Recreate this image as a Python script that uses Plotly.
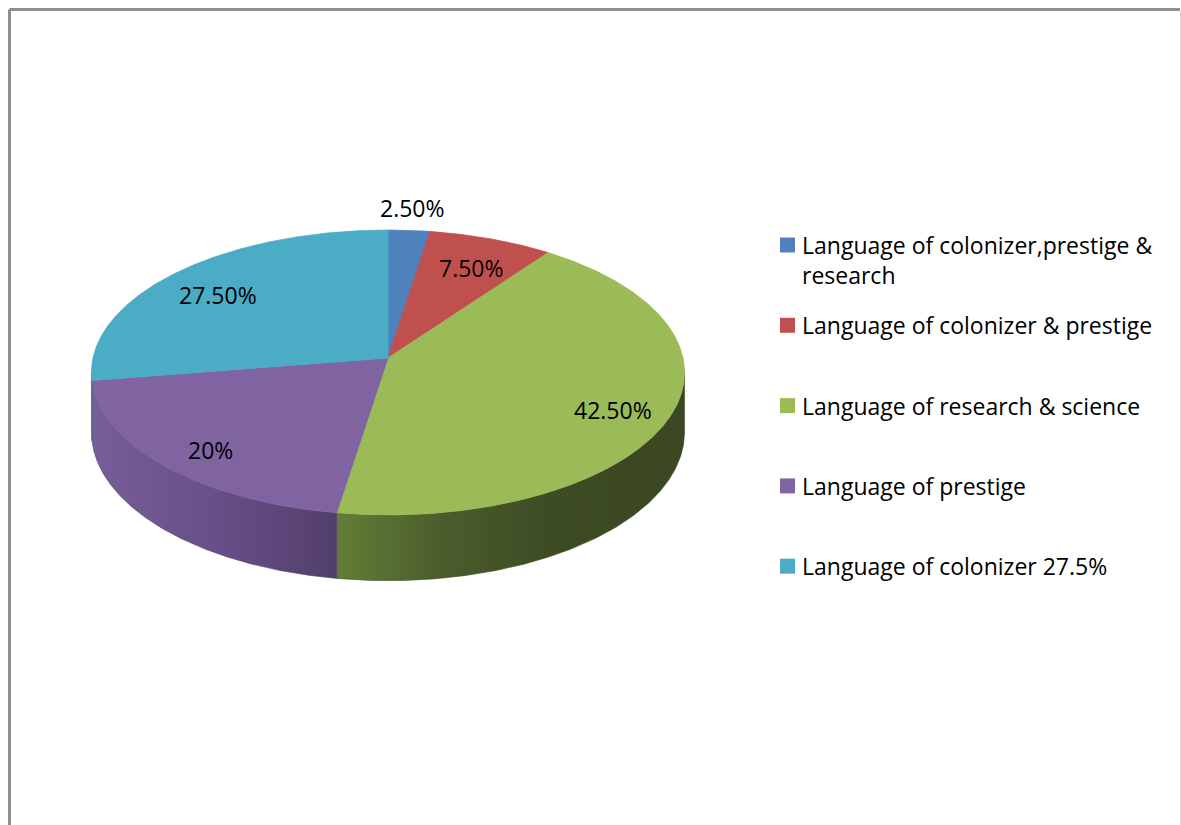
import numpy as np
import plotly.graph_objects as go

# ---- data -------------------------------------------------------------
categories = [
    "Language of colonizer,prestige & research",
    "Language of colonizer & prestige",
    "Language of research & science",
    "Language of prestige",
    "Language of colonizer 27.5%",
]
values = [2.5, 7.5, 42.5, 20, 27.5]
value_labels = ["2.50%", "7.50%", "42.50%", "20%", "27.50%"]

# ---- styling ----------------------------------------------------------
top_colors = ["#4f81bd", "#c0504d", "#9bbb59", "#8064a2", "#4bacc6"]
side_scales = [
    [[0, "#3c6391"], [1, "#2f4e73"]],
    [[0, "#943c3a"], [1, "#73302e"]],
    [[0, "#637e37"], [0.3, "#4b5d2c"], [0.6, "#3e4c24"], [1, "#3a4722"]],
    [[0, "#775e98"], [0.5, "#684f88"], [1, "#523f6c"]],
    [[0, "#3f8ea3"], [1, "#357a8c"]],
]
FONT = "Open Sans"
FSIZE = 23

# pixel-space canvas
W, H = 1181, 825
CX, CY = 388.0, 358.0       # projected pie centre
R, RV = 295.0, 141.0        # horizontal / vertical radius
K = 0.1018                  # perspective strength (front larger than back)
DEPTH = 59.0                # thickness of the disc


def proj(theta_deg, f=1.0, drop=0.0):
    t = np.radians(theta_deg)
    s = 1.0 / (1.0 + K * f * np.cos(t))
    x = CX + R * f * np.sin(t) * s
    y = CY - RV * f * np.cos(t) * s + drop * s
    return x, y


fig = go.Figure()

# angular extents of each slice (clockwise from 12 o'clock)
total = float(sum(values))
edges = np.concatenate([[0.0], np.cumsum(values) / total * 360.0])

# side wall is visible between the rightmost and leftmost silhouette points
vis_lo = np.degrees(np.arccos(-K))
vis_hi = 360.0 - vis_lo

for i in range(len(values)):
    a, b = max(edges[i], vis_lo), min(edges[i + 1], vis_hi)
    if b <= a:
        continue
    th = np.linspace(a, b, 200)
    xt, yt = proj(th)
    xb, yb = proj(th[::-1], drop=DEPTH)
    xs = np.concatenate([xt, xb, xt[:1]])
    ys = np.concatenate([yt, yb, yt[:1]])
    fig.add_trace(go.Scatter(
        x=xs, y=ys, mode="lines", fill="toself",
        line=dict(width=0.6, color=side_scales[i][-1][1]),
        fillgradient=dict(type="horizontal", colorscale=side_scales[i],
                          start=float(xs.min()), stop=float(xs.max())),
        hoverinfo="skip"))

for i in range(len(values)):
    th = np.linspace(edges[i], edges[i + 1], max(int((edges[i + 1] - edges[i]) * 3), 8))
    xa, ya = proj(th)
    xs = np.concatenate([[CX], xa, [CX]])
    ys = np.concatenate([[CY], ya, [CY]])
    fig.add_trace(go.Scatter(
        x=xs, y=ys, mode="lines", fill="toself", fillcolor=top_colors[i],
        line=dict(width=0.8, color=top_colors[i]), hoverinfo="skip"))

annotations = []
# data labels: small slices sit outside the disc, the rest inside
for i, lab in enumerate(value_labels):
    mid = (edges[i] + edges[i + 1]) / 2.0
    outside = values[i] < 5
    lx, ly = proj(mid, f=1.2 if outside else 0.8)
    annotations.append(dict(x=lx, y=ly, text=lab, showarrow=False,
                            xref="x", yref="y", xanchor="center", yanchor="middle",
                            yshift=0 if outside else -7,
                            font=dict(family=FONT, size=FSIZE, color="#000000")))

# legend drawn as swatches + text
LEG_X, LEG_Y0, LEG_STEP, SW = 780, 245, 80.3, 15
shapes = []
for i, name in enumerate(categories):
    yc = LEG_Y0 + i * LEG_STEP
    shapes.append(dict(type="rect", xref="x", yref="y",
                       x0=LEG_X, x1=LEG_X + SW, y0=yc - SW / 2, y1=yc + SW / 2,
                       fillcolor=top_colors[i], line=dict(width=0)))
    text = name
    if len(name) > 34:
        cut = name.rfind(" ", 0, 34)
        text = name[:cut] + "<br>" + name[cut + 1:]
    annotations.append(dict(x=LEG_X + 20, y=yc - 18, text=text, showarrow=False,
                            xref="x", yref="y", xanchor="left", yanchor="top",
                            align="left",
                            font=dict(family=FONT, size=FSIZE, color="#000000")))

# chart frame
shapes += [
    dict(type="line", xref="x", yref="y", x0=9.5, x1=1180, y0=9.5, y1=9.5,
         line=dict(color="#8f8f8f", width=3)),
    dict(type="line", xref="x", yref="y", x0=9.5, x1=9.5, y0=9.5, y1=H + 5,
         line=dict(color="#8f8f8f", width=3)),
    dict(type="line", xref="x", yref="y", x0=1180.5, x1=1180.5, y0=11, y1=H + 5,
         line=dict(color="#d9d9d9", width=1)),
]

fig.update_layout(
    width=W, height=H,
    margin=dict(l=0, r=0, t=0, b=0),
    paper_bgcolor="#ffffff", plot_bgcolor="#ffffff",
    showlegend=False,
    xaxis=dict(range=[0, W], visible=False, fixedrange=True),
    yaxis=dict(range=[H, 0], visible=False, fixedrange=True),
    annotations=annotations, shapes=shapes,
)

fig.write_html("out.html")
